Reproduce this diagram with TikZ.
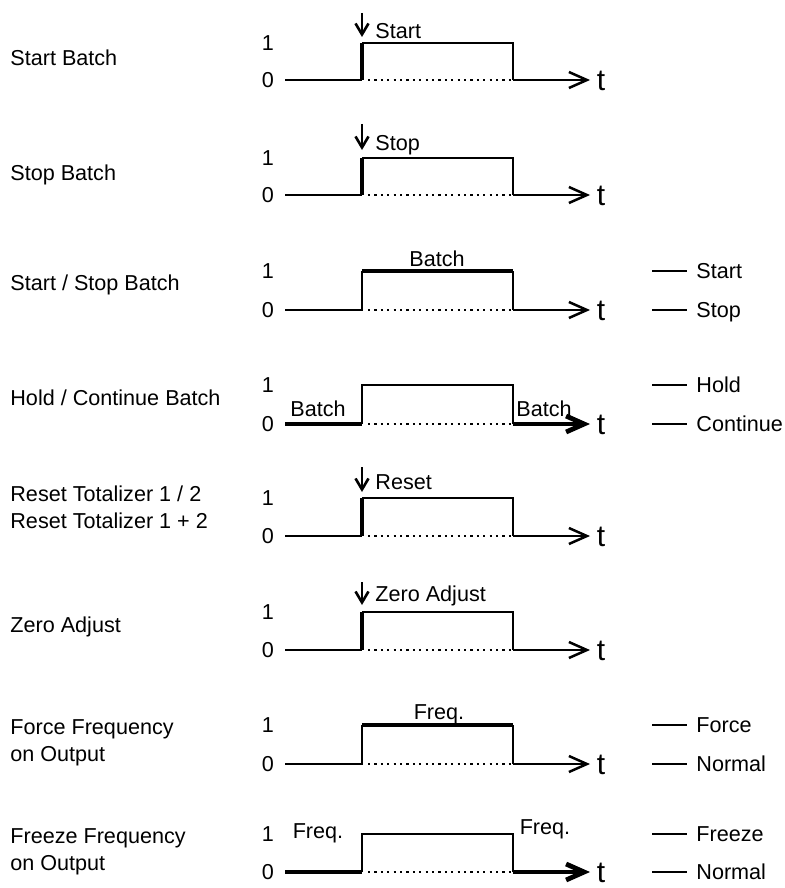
\documentclass[tikz,border=0pt]{standalone}
\usepackage{fontspec}
\setmainfont{Liberation Sans}
\usetikzlibrary{arrows.meta}
\newcommand{\lblfont}{\fontsize{10.8}{13.5}\selectfont}
\newcommand{\tfont}{\fontsize{15}{18}\selectfont}

\begin{document}
\begin{tikzpicture}[
  x=0.5pt, y=-0.5pt,
  sig/.style = {line width=1.25pt, line join=miter},
  sigthick/.style = {line width=2.4pt, line join=miter},
  legline/.style = {line width=1pt},
  dotline/.style = {line width=1.1pt, dash pattern=on 1.1pt off 2.1pt},
  axisarr/.style = {-{Straight Barb[length=9pt,width=8pt]}},
  cmdarr/.style = {line width=1.3pt, -{Straight Barb[length=5.5pt,width=6.5pt]}},
  lvl/.style = {font=\lblfont, inner sep=0pt, text height=7.8pt, text depth=0pt},
  tlab/.style = {font=\tfont, inner sep=0pt, text height=10.8pt, text depth=0pt},
  cmd/.style = {lvl, anchor=west},
  rowname/.style = {font=\lblfont, inner sep=0pt, anchor=west, align=left},
  rowname2/.style = {font=\lblfont, inner sep=0pt, anchor=north west, align=left},
]
\useasboundingbox (0,0) rectangle (785,888);

% Start Batch
\node[rowname] (startname) at (10,58) {Start Batch};
\node[lvl] (startone) at (268,43) {1};
\node[lvl] (startzero) at (268,80) {0};
\draw[sig] (285,80) -- (362,80);
\draw[sigthick] (362,80) -- (362,43);
\draw[sig] (362,43) -- (513,43) -- (513,80);
\draw[sig, axisarr] (513,80) -- (590,80);
\draw[dotline] (368,80) -- (511,80);
\node[tlab] (startt) at (601,80) {t};
\draw[cmdarr] (362,13) -- (362,37);
\node[cmd] (startcmd) at (375,31) {Start};

% Stop Batch
\node[rowname] (stopname) at (10,175) {Stop Batch};
\node[lvl] (stopone) at (268,158) {1};
\node[lvl] (stopzero) at (268,195) {0};
\draw[sig] (285,195) -- (362,195);
\draw[sigthick] (362,195) -- (362,158);
\draw[sig] (362,158) -- (513,158) -- (513,195);
\draw[sig, axisarr] (513,195) -- (590,195);
\draw[dotline] (368,195) -- (511,195);
\node[tlab] (stopt) at (601,195) {t};
\draw[cmdarr] (362,124) -- (362,150);
\node[cmd] (stopcmd) at (375,143) {Stop};

% Start / Stop Batch
\node[rowname] (batchname) at (10,285) {Start / Stop Batch};
\node[lvl] (batchone) at (268,271) {1};
\node[lvl] (batchzero) at (268,310) {0};
\draw[sig] (285,310) -- (362,310) -- (362,271);
\draw[sigthick] (362,271) -- (513,271);
\draw[sig] (513,271) -- (513,310);
\draw[sig, axisarr] (513,310) -- (590,310);
\draw[dotline] (368,310) -- (511,310);
\node[tlab] (batcht) at (601,310) {t};
\node[lvl] (batchlbl) at (437,259) {Batch};
\draw[legline] (652,271) -- (687,271);
\node[cmd] (batchstart) at (696,271) {Start};
\draw[legline] (652,310) -- (687,310);
\node[cmd] (batchstop) at (696,310) {Stop};

% Hold / Continue Batch
\node[rowname] (holdname) at (10,398) {Hold / Continue Batch};
\node[lvl] (holdone) at (268,385) {1};
\node[lvl] (holdzero) at (268,424) {0};
\draw[sigthick] (285,424) -- (362,424);
\draw[sig] (362,424) -- (362,385) -- (513,385) -- (513,424);
\draw[sigthick, axisarr] (513,424) -- (590,424);
\draw[dotline] (368,424) -- (511,424);
\node[tlab] (holdt) at (601,424) {t};
\node[lvl] (holdleft) at (318,409) {Batch};
\node[lvl] (holdright) at (544,409) {Batch};
\draw[legline] (652,385) -- (687,385);
\node[cmd] (holdhold) at (696,385) {Hold};
\draw[legline] (652,424) -- (687,424);
\node[cmd] (holdcont) at (696,424) {Continue};

% Reset Totalizer
\node[rowname2] (resetname) at (10,485) {Reset Totalizer 1 / 2\\Reset Totalizer 1 + 2};
\node[lvl] (resetone) at (268,498) {1};
\node[lvl] (resetzero) at (268,536) {0};
\draw[sig] (285,536) -- (362,536);
\draw[sigthick] (362,536) -- (362,498);
\draw[sig] (362,498) -- (513,498) -- (513,536);
\draw[sig, axisarr] (513,536) -- (590,536);
\draw[dotline] (368,536) -- (511,536);
\node[tlab] (resett) at (601,536) {t};
\draw[cmdarr] (362,467) -- (362,492);
\node[cmd] (resetcmd) at (375,482) {Reset};

% Zero Adjust
\node[rowname] (zeroname) at (10,627) {Zero Adjust};
\node[lvl] (zeroone) at (268,612) {1};
\node[lvl] (zerozero) at (268,650) {0};
\draw[sig] (285,650) -- (362,650);
\draw[sigthick] (362,650) -- (362,612);
\draw[sig] (362,612) -- (513,612) -- (513,650);
\draw[sig, axisarr] (513,650) -- (590,650);
\draw[dotline] (368,650) -- (511,650);
\node[tlab] (zerot) at (601,650) {t};
\draw[cmdarr] (362,582) -- (362,605);
\node[cmd] (zerocmd) at (375,594) {Zero Adjust};

% Force Frequency
\node[rowname2] (forcename) at (10,719) {Force Frequency\\on Output};
\node[lvl] (forceone) at (268,725) {1};
\node[lvl] (forcezero) at (268,764) {0};
\draw[sig] (285,764) -- (362,764) -- (362,725);
\draw[sigthick] (362,725) -- (513,725);
\draw[sig] (513,725) -- (513,764);
\draw[sig, axisarr] (513,764) -- (590,764);
\draw[dotline] (368,764) -- (511,764);
\node[tlab] (forcet) at (601,764) {t};
\node[lvl] (forcelbl) at (439,712) {Freq.};
\draw[legline] (652,725) -- (687,725);
\node[cmd] (forceforce) at (696,725) {Force};
\draw[legline] (652,764) -- (687,764);
\node[cmd] (forcenormal) at (696,764) {Normal};

% Freeze Frequency
\node[rowname2] (freezename) at (10,828) {Freeze Frequency\\on Output};
\node[lvl] (freezeone) at (268,834) {1};
\node[lvl] (freezezero) at (268,872) {0};
\draw[sigthick] (285,872) -- (362,872);
\draw[sig] (362,872) -- (362,834) -- (513,834) -- (513,872);
\draw[sigthick, axisarr] (513,872) -- (590,872);
\draw[dotline] (368,872) -- (511,872);
\node[tlab] (freezet) at (601,872) {t};
\node[lvl] (freezeleft) at (318,831) {Freq.};
\node[lvl] (freezeright) at (545,827) {Freq.};
\draw[legline] (652,834) -- (687,834);
\node[cmd] (freezefreeze) at (696,834) {Freeze};
\draw[legline] (652,872) -- (687,872);
\node[cmd] (freezenormal) at (696,872) {Normal};
\end{tikzpicture}
\end{document}
